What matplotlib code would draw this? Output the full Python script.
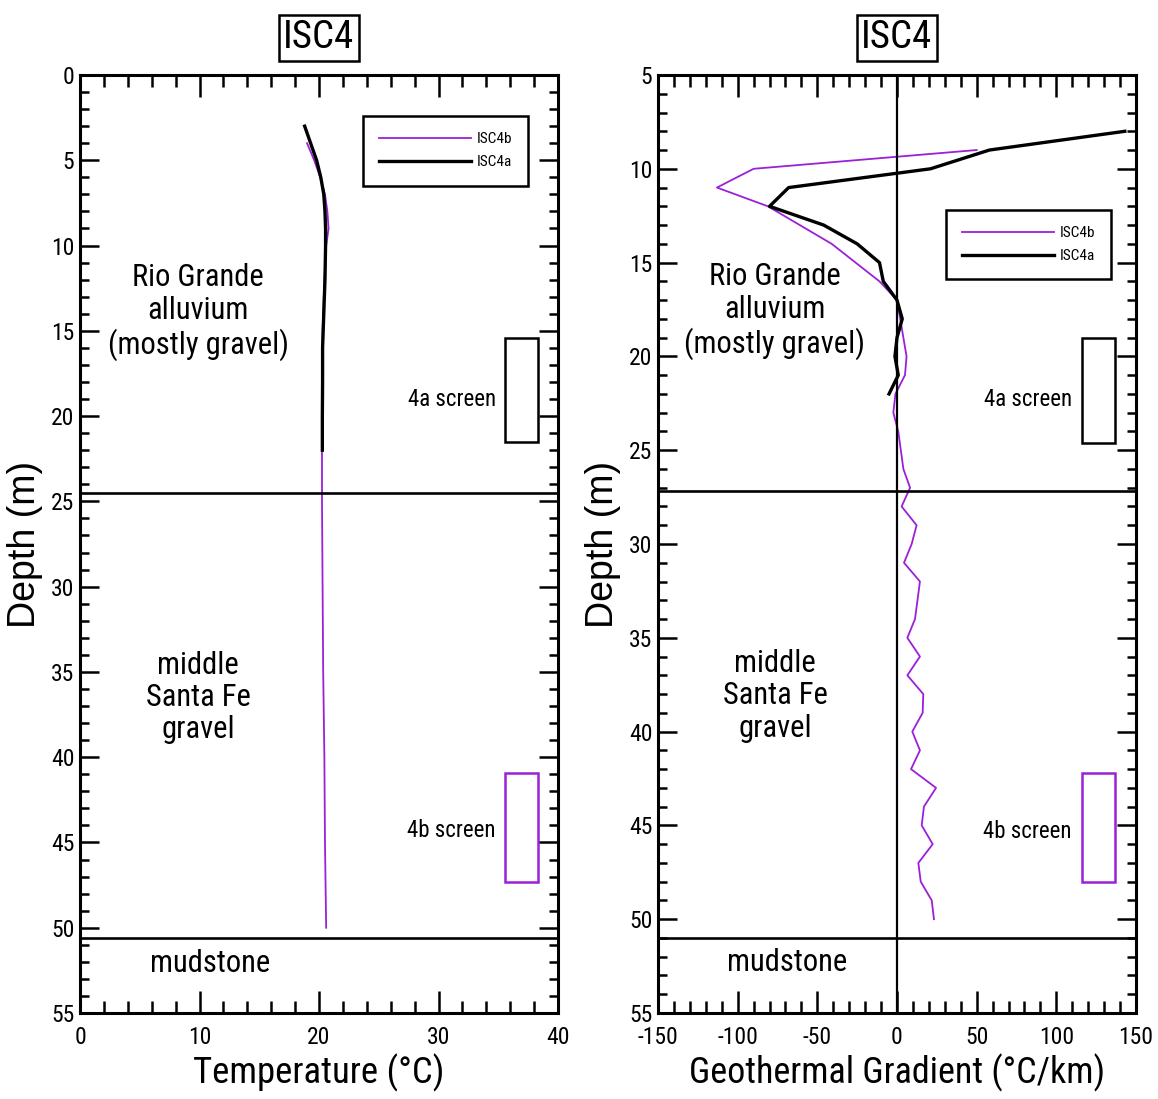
import matplotlib
matplotlib.use("Agg")
import matplotlib.pyplot as plt
from matplotlib.patches import Rectangle
from matplotlib.ticker import MultipleLocator

plt.rcParams['font.family'] = ['Roboto Condensed', 'Liberation Sans', 'DejaVu Sans']
plt.rcParams['axes.unicode_minus'] = False

purple = '#9b20d8'

# temperature profiles (depth m, temperature C)
t4a_depth = [3, 4, 5, 6, 7, 8, 9, 10, 12, 14, 16, 18, 20, 22]
t4a_temp = [18.8, 19.3, 19.8, 20.15, 20.4, 20.5, 20.55, 20.55, 20.5, 20.4, 20.3, 20.3, 20.28, 20.28]
t4b_depth = [4, 5, 6, 7, 8, 9, 10, 12, 15, 20, 25, 30, 35, 40, 45, 50]
t4b_temp = [19.0, 19.6, 20.1, 20.5, 20.7, 20.8, 20.6, 20.45, 20.3, 20.25, 20.25, 20.3, 20.35, 20.45, 20.5, 20.6]

# geothermal gradient (depth m, C/km)
g4a_depth = [8, 9, 10, 11, 12, 13, 14, 15, 16, 17, 18, 19, 20, 21, 22]
g4a_grad = [143, 58, 21, -68, -80, -46, -25, -11, -8.6, 0, 3.3, 0, -1.3, 0.8, -5]
g4b_depth = [9, 10, 11, 12, 14, 16, 17, 20, 21, 22, 23, 24, 26, 27, 28, 29, 30, 31, 32,
             34, 35, 36, 37, 38, 39, 40, 41, 42, 43, 44, 45, 46, 47, 48, 49, 50]
g4b_grad = [50, -90, -113, -81, -41, -11, 0, 6, 5, -1, -2.3, 0.8, 4, 8.2, 2.9, 12.3, 9.2, 4.4, 14.4,
            11.3, 6.5, 14.4, 6.5, 16.5, 16.1, 9.6, 14.4, 8.8, 24.5, 16.9, 15.5, 22.4, 13.4, 14.9, 21.8, 23.2]

# unit boundaries and screen intervals (depth m)
left_bounds = [24.5, 50.6]
right_bounds = [27.2, 51.0]
left_screen_4a = (15.4, 21.5)
left_screen_4b = (40.9, 47.3)
right_screen_4a = (19.0, 24.6)
right_screen_4b = (42.2, 48.0)

fig = plt.figure(figsize=(11.58, 10.99), dpi=100)
axl = fig.add_axes([80 / 1158, 1 - 1013 / 1099, 478 / 1158, 938 / 1099])
axr = fig.add_axes([658 / 1158, 1 - 1013 / 1099, 478 / 1158, 938 / 1099])


def style_axis(ax, xmaj, xmin):
    for s in ax.spines.values():
        s.set_linewidth(2.2)
    ax.xaxis.set_major_locator(MultipleLocator(xmaj))
    ax.xaxis.set_minor_locator(MultipleLocator(xmin))
    ax.yaxis.set_major_locator(MultipleLocator(5))
    ax.yaxis.set_minor_locator(MultipleLocator(1))
    ax.tick_params(axis='both', which='both', direction='in', top=True, right=True, width=1.8)
    ax.tick_params(axis='x', which='major', length=16, pad=9, labelsize=17)
    ax.tick_params(axis='x', which='minor', length=8.5)
    ax.tick_params(axis='y', which='major', length=13.5, pad=4, labelsize=17)
    ax.tick_params(axis='y', which='minor', length=6.5)


def add_labels(ax, x_top, y_top, x_mid, y_mid, x_mud, y_mud):
    ax.text(x_top, y_top, "Rio Grande\nalluvium\n(mostly gravel)", ha='center', va='center',
            fontsize=22, linespacing=1.15)
    ax.text(x_mid, y_mid, "middle\nSanta Fe\ngravel", ha='center', va='center',
            fontsize=22, linespacing=1.15)
    ax.text(x_mud, y_mud, "mudstone", ha='center', va='center', fontsize=22)


def add_title(ax):
    ax.text(0.5, 1 + 37 / 938, "ISC4", transform=ax.transAxes, ha='center', va='center',
            fontsize=28, bbox=dict(boxstyle='square,pad=0.12', fc='white', ec='black', lw=1.8))


def add_legend(ax, anchor):
    leg = ax.legend(loc='upper left', bbox_to_anchor=anchor, fontsize=11, handlelength=6.0,
                    fancybox=False, edgecolor='black', framealpha=1, borderpad=1.05,
                    labelspacing=0.6, handletextpad=0.4, borderaxespad=0)
    leg.get_frame().set_linewidth(1.8)


# ---- left: temperature
ax = axl
ax.plot(t4b_temp, t4b_depth, color=purple, lw=1.3, label='ISC4b')
ax.plot(t4a_temp, t4a_depth, color='black', lw=2.4, label='ISC4a')
for d in left_bounds:
    ax.axhline(d, color='black', lw=1.9)
for (d0, d1), c in [(left_screen_4a, 'black'), (left_screen_4b, purple)]:
    ax.add_patch(Rectangle((35.6, d0), 2.7, d1 - d0, fill=False, ec=c, lw=1.8))
ax.text(31.1, 19.0, "4a screen", ha='center', va='center', fontsize=16.5)
ax.text(31.1, 44.3, "4b screen", ha='center', va='center', fontsize=16.5)
add_labels(ax, 9.9, 13.9, 9.9, 36.5, 10.9, 52.1)
ax.set_xlim(0, 40)
ax.set_ylim(55, 0)
style_axis(ax, 10, 2)
ax.set_xlabel("Temperature (°C)", fontsize=26.5, labelpad=4)
ax.set_ylabel("Depth (m)", fontsize=27, family=['Liberation Sans', 'DejaVu Sans'], labelpad=6)
add_title(ax)
add_legend(ax, (0.592, 0.956))

# ---- right: geothermal gradient
ax = axr
ax.plot(g4b_grad, g4b_depth, color=purple, lw=1.3, label='ISC4b')
ax.plot(g4a_grad, g4a_depth, color='black', lw=2.4, label='ISC4a')
for d in right_bounds:
    ax.axhline(d, color='black', lw=1.9)
ax.axvline(0, color='black', lw=1.6)
for (d0, d1), c in [(right_screen_4a, 'black'), (right_screen_4b, purple)]:
    ax.add_patch(Rectangle((116, d0), 21, d1 - d0, fill=False, ec=c, lw=1.8))
ax.text(82, 22.3, "4a screen", ha='center', va='center', fontsize=16.5)
ax.text(82, 45.3, "4b screen", ha='center', va='center', fontsize=16.5)
add_labels(ax, -76.6, 17.6, -76.6, 38.1, -69, 52.3)
ax.set_xlim(-150, 150)
ax.set_ylim(55, 5)
style_axis(ax, 50, 10)
ax.set_xlabel("Geothermal Gradient (°C/km)", fontsize=26, labelpad=4)
ax.set_ylabel("Depth (m)", fontsize=27, family=['Liberation Sans', 'DejaVu Sans'], labelpad=6)
add_title(ax)
add_legend(ax, (0.6025, 0.856))

fig.savefig("out.png", dpi=100)
